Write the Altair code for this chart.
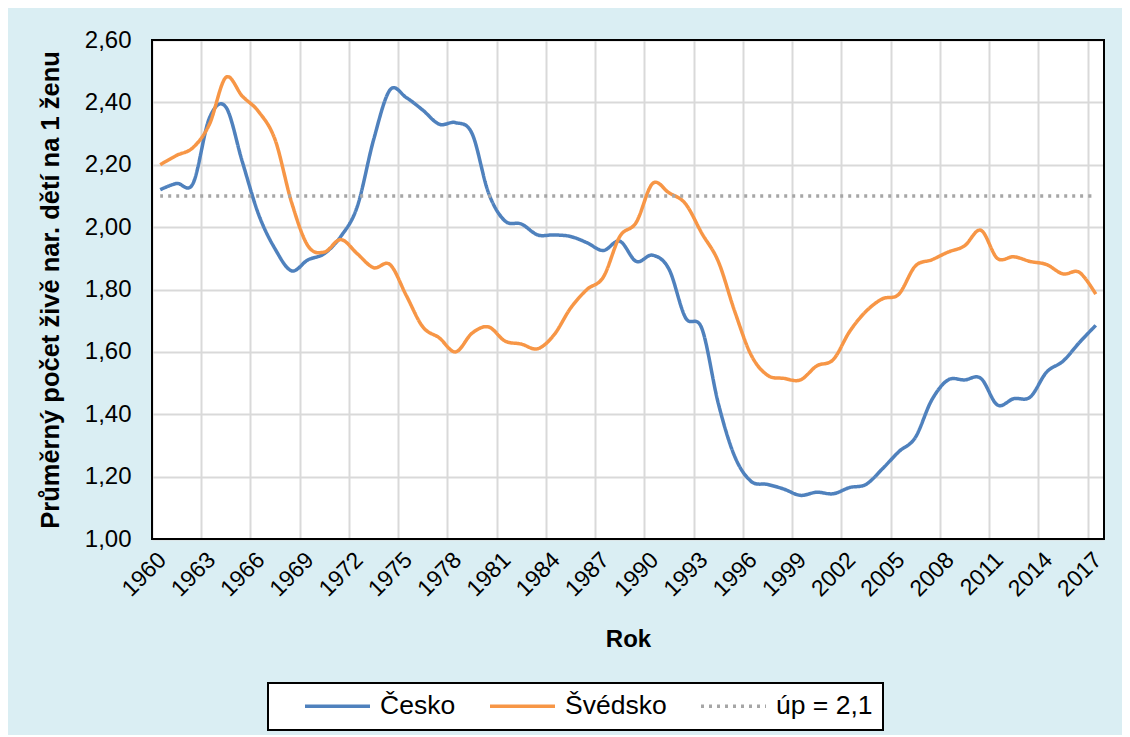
import altair as alt
import pandas as pd

YEARS = list(range(1960, 2018))

CESKO = [2.12, 2.14, 2.14, 2.35, 2.385, 2.21, 2.04, 1.93, 1.86, 1.895,
         1.915, 1.97, 2.065, 2.28, 2.44, 2.415, 2.375, 2.33, 2.335, 2.30,
         2.11, 2.02, 2.01, 1.975, 1.975, 1.97, 1.95, 1.925, 1.955, 1.89,
         1.91, 1.865, 1.71, 1.675, 1.435, 1.265, 1.185, 1.175, 1.16, 1.14,
         1.15, 1.145, 1.165, 1.175, 1.225, 1.28, 1.325, 1.445, 1.51, 1.51,
         1.515, 1.43, 1.45, 1.455, 1.535, 1.57, 1.63, 1.685]

SVEDSKO = [2.20, 2.23, 2.255, 2.33, 2.48, 2.42, 2.37, 2.28, 2.08, 1.94,
           1.92, 1.96, 1.915, 1.87, 1.88, 1.78, 1.68, 1.645, 1.60, 1.66,
           1.68, 1.635, 1.625, 1.61, 1.655, 1.74, 1.80, 1.84, 1.97, 2.015,
           2.14, 2.11, 2.075, 1.98, 1.89, 1.73, 1.59, 1.525, 1.515, 1.51,
           1.555, 1.575, 1.665, 1.73, 1.77, 1.785, 1.875, 1.895, 1.92, 1.94,
           1.99, 1.90, 1.905, 1.89, 1.88, 1.85, 1.855, 1.785]

UP_VALUE = 2.1

SERIES = ["Česko", "Švédsko", "úp = 2,1"]
COLORS = ["#4F81BD", "#F79646", "#A6A6A6"]
DASHES = [[1, 0], [1, 0], [3, 5]]

X_LABELS = [1960, 1963, 1966, 1969, 1972, 1975, 1978, 1981, 1984, 1987,
            1990, 1993, 1996, 1999, 2002, 2005, 2008, 2011, 2014, 2017]
Y_TICKS = [1.0, 1.2, 1.4, 1.6, 1.8, 2.0, 2.2, 2.4, 2.6]
X_DOMAIN = [1959.5, 2017.5]
Y_DOMAIN = [1.0, 2.6]

rows = []
for i, yr in enumerate(YEARS):
    rows.append({"year": yr, "value": CESKO[i], "series": SERIES[0]})
    rows.append({"year": yr, "value": SVEDSKO[i], "series": SERIES[1]})
    rows.append({"year": yr, "value": UP_VALUE, "series": SERIES[2]})
df = pd.DataFrame(rows)

frame_df = pd.DataFrame([{"x1": X_DOMAIN[0], "x2": X_DOMAIN[1],
                          "y1": Y_DOMAIN[0], "y2": Y_DOMAIN[1]}])

FONT = "Liberation Sans"

x_scale = alt.Scale(domain=X_DOMAIN, nice=False, zero=False)
y_scale = alt.Scale(domain=Y_DOMAIN, nice=False, zero=False)

lines = alt.Chart(df).mark_line(interpolate="cardinal", strokeWidth=3.5).encode(
    x=alt.X(
        "year:Q",
        scale=x_scale,
        axis=alt.Axis(
            values=[v - 0.5 for v in X_LABELS],
            labelExpr="format(datum.value + 0.5, 'd')",
            title="Rok",
            grid=True,
            gridColor="#D9D9D9",
            gridWidth=2,
            ticks=False,
            tickSize=0,
            domain=False,
            labelAngle=-45,
            labelAlign="right",
            labelBaseline="middle",
            labelFontSize=23,
            labelFont=FONT,
            labelColor="#000000",
            labelPadding=17,
            labelOffset=10,
            labelOverlap=False,
            labelFlush=False,
            titleFont=FONT,
            titleFontSize=24,
            titleFontWeight="bold",
            titleColor="#000000",
            titlePadding=27,
        ),
    ),
    y=alt.Y(
        "value:Q",
        scale=y_scale,
        axis=alt.Axis(
            values=Y_TICKS,
            labelExpr="replace(format(datum.value, '.2f'), '.', ',')",
            title="Průměrný počet živě nar. dětí na 1 ženu",
            grid=True,
            gridColor="#D9D9D9",
            gridWidth=2,
            ticks=False,
            tickSize=0,
            domain=False,
            labelFontSize=24,
            labelFont=FONT,
            labelColor="#000000",
            labelPadding=21,
            labelOverlap=False,
            labelFlush=False,
            titleFont=FONT,
            titleFontSize=25.5,
            titleFontWeight="bold",
            titleColor="#000000",
            titlePadding=21,
        ),
    ),
    color=alt.Color(
        "series:N",
        scale=alt.Scale(domain=SERIES, range=COLORS),
        legend=alt.Legend(title=None),
    ),
    strokeDash=alt.StrokeDash(
        "series:N",
        scale=alt.Scale(domain=SERIES, range=DASHES),
        legend=alt.Legend(title=None),
    ),
)

frame = alt.Chart(frame_df).mark_rect(
    fill=None, fillOpacity=0, stroke="#000000", strokeWidth=2
).encode(
    x=alt.X("x1:Q", scale=x_scale),
    x2="x2:Q",
    y=alt.Y("y1:Q", scale=y_scale),
    y2="y2:Q",
)

chart = alt.layer(lines, frame).properties(
    width=952,
    height=499,
    background="#DAEEF3",
    padding={"left": 144, "top": 32, "right": 18, "bottom": 196},
    autosize=alt.AutoSizeParams(type="none"),
).configure_view(
    stroke=None,
    fill="#FFFFFF",
).configure_legend(
    orient="none",
    legendX=116,
    legendY=643,
    direction="horizontal",
    fillColor="#FFFFFF",
    strokeColor="#000000",
    strokeWidth=2,
    padding=10,
    symbolType="stroke",
    symbolSize=4225,
    symbolStrokeWidth=3.5,
    symbolOffset=25,
    clipHeight=26,
    labelFont=FONT,
    labelFontSize=26.5,
    labelColor="#000000",
    labelOffset=8,
    columnPadding=7,
    cornerRadius=0,
)

chart.save("out.html", embed_options={"renderer": "svg", "actions": False})
